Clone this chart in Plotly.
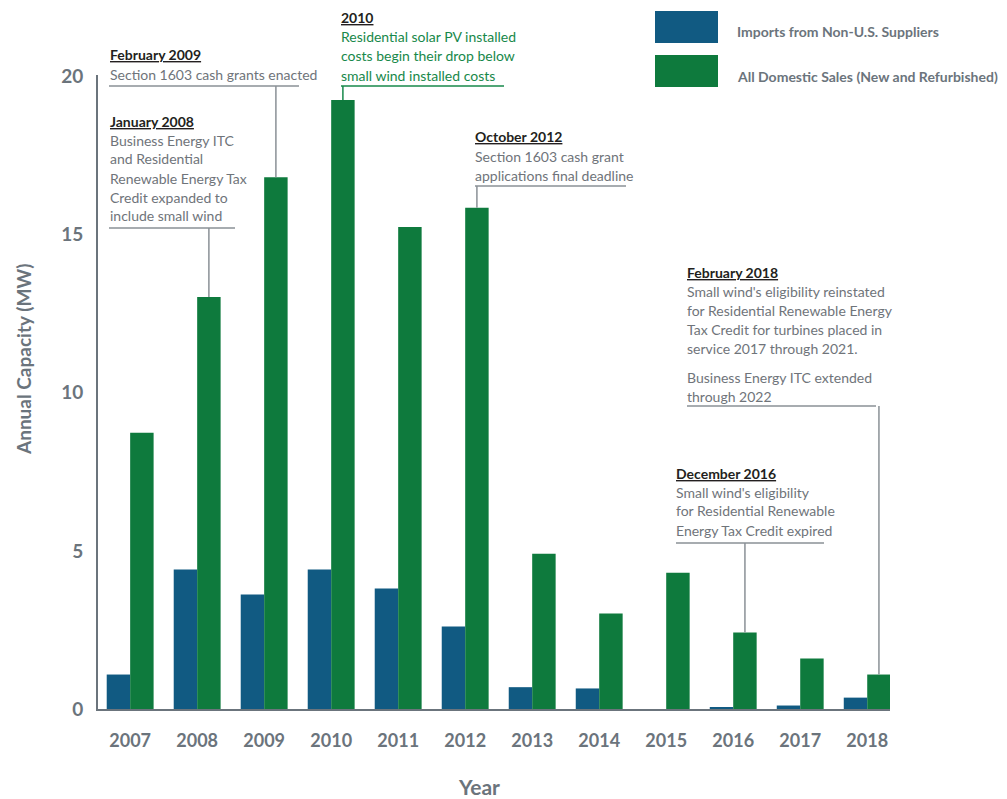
import plotly.graph_objects as go

# ---------------- data ----------------
years = ["2007", "2008", "2009", "2010", "2011", "2012",
         "2013", "2014", "2015", "2016", "2017", "2018"]
imports_mw = [1.09, 4.41, 3.62, 4.41, 3.81, 2.61, 0.69, 0.65, 0.0, 0.05, 0.11, 0.36]
domestic_mw = [8.74, 13.03, 16.82, 19.26, 15.24, 15.85, 4.91, 3.02, 4.31, 2.42, 1.60, 1.09]
series_names = ["Imports from Non-U.S. Suppliers",
                "All Domestic Sales (New and Refurbished)"]
y_ticks = [0, 5, 10, 15, 20]
x_title = "Year"
y_title = "Annual Capacity (MW)"

# timeline events: (year of bar, title, body lines)
event_years = ["2008", "2009", "2010", "2012", "2016", "2018"]
event_titles = ["January 2008", "February 2009", "2010", "October 2012",
                "December 2016", "February 2018"]
event_bodies = [
    ["Business Energy ITC", "and Residential", "Renewable Energy Tax",
     "Credit expanded to", "include small wind"],
    ["Section 1603 cash grants enacted"],
    ["Residential solar PV installed", "costs begin their drop below",
     "small wind installed costs"],
    ["Section 1603 cash grant", "applications final deadline"],
    ["Small wind's eligibility", "for Residential Renewable",
     "Energy Tax Credit expired"],
    ["Small wind's eligibility reinstated", "for Residential Renewable Energy",
     "Tax Credit for turbines placed in", "service 2017 through 2021."],
]
extra_note_2018 = ["Business Energy ITC extended", "through 2022"]

# ---------------- styles / layout ----------------
BLUE = "#115a82"
GREEN = "#0e7a3d"
GREEN_TXT = "#17884a"
GRAY_TXT = "#6f747a"
AXIS_GRAY = "#6b747c"
DARK = "#231f20"
LEADER = "#8a9096"
FONT = "Lato, DejaVu Sans Condensed, sans-serif"

W, H = 1007, 799
L, R, T, B = 98, 890, 75, 709
YMAX = 20.05
BARGAP = 0.3
X_RANGE = [-0.48, 11.34]
LINE_H = 19
FS = 14


def xp(px):
    return (px - L) / (R - L)


def yp(py):
    return (B - py) / (B - T)


def yd(py):
    return (B - py) / (B - T) * YMAX


def text_line(txt, left, cy, color, size=FS, bold=False, underline=False):
    if underline:
        txt = f"<u>{txt}</u>"
    return dict(text=txt, xref="paper", yref="paper", x=xp(left), y=yp(cy),
                xanchor="left", yanchor="middle", align="left", showarrow=False,
                borderpad=0, borderwidth=0,
                font=dict(family=FONT, size=size, color=color,
                          weight="bold" if bold else "normal"))


fig = go.Figure()
fig.add_trace(go.Bar(x=years, y=imports_mw, name=series_names[0],
                     marker=dict(color=BLUE, line=dict(width=0))))
fig.add_trace(go.Bar(x=years, y=domestic_mw, name=series_names[1],
                     marker=dict(color=GREEN, line=dict(width=0))))

annotations = []
shapes = []

# layout positions for each event block (pixel): text left, first line center,
# horizontal leader y, leader x-start, leader x-end
event_layout = [
    (110, 121, 228, 109, 235),
    (110, 55, 86, 109, 299),
    (341, 18, 86, 341, 504),
    (475, 137, 186, 475, 626),
    (676, 473, 543, 676, 824),
    (687, 272, 406, 687, 876),
]

green_offset = (1 - BARGAP) / 4

for k, (yr, title, body) in enumerate(zip(event_years, event_titles, event_bodies)):
    left, c1, hy, hx0, hx1 = event_layout[k]
    is_green = (yr == "2010")
    body_col = GREEN_TXT if is_green else GRAY_TXT
    line_col = GREEN_TXT if is_green else LEADER
    annotations.append(text_line(title, left, c1, DARK, bold=True, underline=True))
    for j, b in enumerate(body):
        annotations.append(text_line(b, left, c1 + LINE_H * (j + 1), body_col))
    # horizontal leader
    shapes.append(dict(type="line", xref="paper", yref="y",
                       x0=xp(hx0), x1=xp(hx1), y0=yd(hy), y1=yd(hy),
                       line=dict(color=line_col, width=1.5)))
    # vertical leader to the top of the domestic bar
    i = years.index(yr)
    xc = i + green_offset
    shapes.append(dict(type="line", xref="x", yref="y",
                       x0=xc, x1=xc, y0=domestic_mw[i], y1=yd(hy),
                       line=dict(color=line_col, width=1.5)))

for j, b in enumerate(extra_note_2018):
    annotations.append(text_line(b, 687, 377 + LINE_H * j, GRAY_TXT))

# custom legend
leg_boxes = [(11, 43), (55, 87)]
for (y0, y1), name, col in zip(leg_boxes, series_names, [BLUE, GREEN]):
    shapes.append(dict(type="rect", xref="paper", yref="paper",
                       x0=xp(655), x1=xp(718), y0=yp(y1), y1=yp(y0),
                       fillcolor=col, line=dict(width=0)))
    annotations.append(text_line(name, 737, (y0 + y1) / 2 + 5, AXIS_GRAY,
                                 size=14, bold=True))

# axis titles
annotations.append(dict(
    text=y_title, xref="paper", yref="paper",
    x=xp(23), y=yp(359), textangle=-90, showarrow=False,
    xanchor="center", yanchor="middle",
    font=dict(family=FONT, size=19, color=AXIS_GRAY, weight="bold")))
annotations.append(dict(
    text=x_title, xref="paper", yref="paper",
    x=xp(479), y=yp(786), showarrow=False,
    xanchor="center", yanchor="middle",
    font=dict(family=FONT, size=21, color=AXIS_GRAY, weight="bold")))

fig.update_layout(
    width=W, height=H,
    margin=dict(l=L, r=W - R, t=T, b=H - B, pad=0),
    paper_bgcolor="white", plot_bgcolor="white",
    barmode="group", bargap=BARGAP, bargroupgap=0,
    showlegend=False,
    font=dict(family=FONT, color=AXIS_GRAY),
    annotations=annotations, shapes=shapes,
    xaxis=dict(type="category", range=X_RANGE, showgrid=False, zeroline=False,
               showline=True, linecolor=AXIS_GRAY, linewidth=2, ticks="",
               ticklabelstandoff=14,
               tickfont=dict(family=FONT, size=18, color=AXIS_GRAY, weight="bold")),
    yaxis=dict(range=[0, YMAX], tickvals=y_ticks, showgrid=False, zeroline=False,
               showline=True, linecolor=AXIS_GRAY, linewidth=2, ticks="",
               ticklabelstandoff=9,
               tickfont=dict(family=FONT, size=19, color=AXIS_GRAY, weight="bold")),
)

fig.write_html("out.html", config={"displayModeBar": False},
               post_script="document.body.style.margin='0';")
